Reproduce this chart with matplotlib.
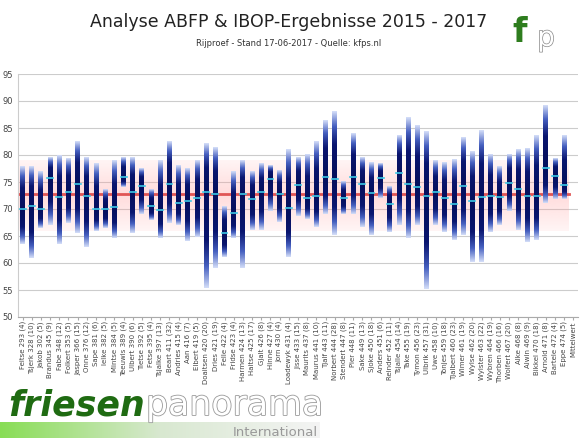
#!/usr/bin/env python
import numpy as np
import matplotlib
matplotlib.use('Agg')
import matplotlib.pyplot as plt
from matplotlib.colors import LinearSegmentedColormap
import matplotlib.patheffects as pe

labels = ['Feitse 293 (4)', 'Tsjerk 328 (10)', 'Jakob 302 (5)', 'Brandus 345 (9)', 'Fabe 348 (12)',
          'Folkert 353 (5)', 'Jasper 366 (15)', 'Onne 376 (12)', 'Sape 381 (6)', 'Ielke 382 (5)',
          'Mintse 384 (5)', 'Teeuwis 389 (4)', 'Ulbert 390 (6)', 'Tietse 392 (5)', 'Fetse 395 (4)',
          'Tsjalke 397 (13)', 'Beart 411 (32)', 'Andries 415 (4)', 'Aan 416 (7)', 'Elbert 419 (5)',
          'Doaitsen 420 (20)', 'Dries 421 (19)', 'Felle 422 (4)', 'Fridse 423 (4)', 'Harmen 424 (13)',
          'Haitse 425 (17)', 'Gjalt 426 (8)', 'Hinne 427 (4)', 'Jorn 430 (4)', 'Loadewyk 431 (4)',
          'Jisse 433 (15)', 'Maurits 437 (8)', 'Maurus 441 (10)', 'Tjalf 443 (11)', 'Norbert 444 (28)',
          'Stendert 447 (8)', 'Pier 448 (11)', 'Sake 449 (13)', 'Sjoke 450 (18)', 'Anders 451 (6)',
          'Reinder 452 (11)', 'Tsjalle 454 (14)', 'Take 455 (19)', 'Tymon 456 (23)', 'Ulbrik 457 (31)',
          'Uwe 458 (10)', 'Tonjes 459 (18)', 'Tjalbert 460 (23)', 'Wimer 461 (19)', 'Wylse 462 (20)',
          'Wylster 463 (22)', 'Wybren 464 (19)', 'Thorben 466 (16)', 'Wolfert 467 (20)', 'Alke 468 (8)',
          'Alwin 469 (9)', 'Bikkel 470 (18)', 'Arnold 471 (8)', 'Bartele 472 (4)', 'Eppe 474 (5)',
          'Mittelwert']

maxima = [78, 78, 77, 79.5, 80, 79.5, 82.5, 79.5, 78.5, 73.6, 79, 79.5, 79.5, 77.5, 73.6, 79, 82.5, 78,
          77.5, 79, 82.1, 81.5, 70.5, 77.1, 79.1, 77.1, 78.6, 78, 77.1, 81.1, 79.6, 80.1, 82.5, 86.5,
          88, 75.2, 84, 79.6, 78.6, 78.5, 74.1, 83.6, 87.1, 85.6, 84.2, 79.1, 78.6, 79.1, 83.1, 80.7,
          84.5, 80.1, 78, 80.1, 81.1, 81.1, 83.6, 89.1, 79.3, 83.6]
minima = [63.6, 61, 66.5, 67, 63.6, 67.5, 65.6, 63, 66, 66.5, 64.6, 74.1, 65.6, 69, 68, 64.6, 67.5, 67,
          64, 64.8, 55.3, 59.1, 61.2, 64.7, 59.1, 66.2, 66.2, 69.6, 67.6, 61.2, 68.7, 68.2, 66.7, 69.1,
          65.1, 69.1, 69.1, 66.7, 65.1, 72.1, 65.7, 67.1, 64.7, 67.1, 55.1, 67.1, 65.7, 64.2, 65.1, 60.2,
          60.2, 65.7, 67.1, 69.6, 66.2, 63.8, 64.2, 71.1, 71.8, 71.8]
means = [70, 70.6, 70, 75.7, 72.3, 73.1, 74.6, 72.5, 70, 70, 70.3, 76, 73.1, 74.3, 70.5, 69.8, 74.6, 71.1,
         71.5, 72, 73.1, 72.7, 65.6, 69.2, 72.7, 71.9, 73.1, 75.6, 72.7, 70.2, 74.5, 72, 72.4, 76, 75.6,
         72, 76, 74.6, 72.9, 75.7, 71, 76.7, 74.6, 74.1, 72.4, 73.1, 72, 71, 74.2, 71.4, 72.2, 72.4,
         72.2, 74.9, 73.7, 72.5, 72.4, 77.6, 76.2, 74.5]
overall_mean = 72.8
band_low, band_high = 66.0, 79.0

fig = plt.figure(figsize=(5.84, 4.47), dpi=100)
ax = fig.add_axes([18 / 584, 1 - 317 / 447, 560 / 584, 243 / 447])
n = len(labels)
ax.set_xlim(-0.5, n - 0.5)
ax.set_ylim(50, 95)

# pink band around the overall mean
yy = np.linspace(band_low, band_high, 200)
alpha = 1 - np.abs(yy - overall_mean) / np.where(yy > overall_mean, band_high - overall_mean, overall_mean - band_low)
rgba = np.zeros((200, 1, 4))
rgba[..., 0] = 1.0
rgba[..., 1] = 0.6
rgba[..., 2] = 0.6
rgba[:, 0, 3] = 0.1 + 0.25 * alpha
ax.imshow(rgba, extent=[-0.5, n - 1.5, band_low, band_high], origin='lower', aspect='auto', zorder=1)

cmap = LinearSegmentedColormap.from_list('bars', ['#d3ddf8', '#4660c0', '#0a1670', '#06105e'])
w = 0.27
for i in range(len(maxima)):
    lo, hi, m = minima[i], maxima[i], means[i]
    ys = np.linspace(lo, hi, 200)
    d = np.where(ys > m, (ys - m) / max(hi - m, 0.1), (m - ys) / max(m - lo, 0.1))
    val = 1 - np.clip(d, 0, 1) ** 1.6
    ax.imshow(val[:, None], cmap=cmap, vmin=0, vmax=1, extent=[i - w, i + w, lo, hi],
              origin='lower', aspect='auto', zorder=3)
    ax.plot([i - w - 0.05, i + w + 0.05], [m, m], color='#3cc8e6', lw=1.2, zorder=4)

ax.axhline(overall_mean, xmin=0, xmax=(n - 1) / n, color='#e05555', lw=2, zorder=2)

ax.set_yticks(range(50, 96, 5))
ax.yaxis.grid(True, color='#cccccc', lw=0.8)
ax.set_axisbelow(True)
ax.set_xticks(range(n))
ax.set_xticklabels(labels, rotation=90, fontsize=5, color='#444444')
ax.tick_params(axis='y', labelsize=6, colors='#444444', length=0)
ax.tick_params(axis='x', length=2, color='#aaaaaa', pad=1)
for s in ['top', 'right']:
    ax.spines[s].set_visible(False)
ax.spines['left'].set_color('#cccccc')
ax.spines['bottom'].set_color('#aaaaaa')

fig.text(0.495, 1 - 22 / 447, 'Analyse ABFP & IBOP-Ergebnisse 2015 - 2017', ha='center', va='center',
         fontsize=12.5, color='#222222')
fig.text(0.495, 1 - 44 / 447, 'Rijproef - Stand 17-06-2017 - Quelle: kfps.nl', ha='center', va='center',
         fontsize=6, color='#333333')

# kfp logo approximation
fig.text(0.89, 1 - 33 / 447, 'f', ha='center', va='center', fontsize=24, color='#2e7d1e',
         fontweight='bold')
fig.text(0.935, 1 - 38 / 447, 'p', ha='center', va='center', fontsize=20, color='white',
         path_effects=[pe.withStroke(linewidth=1, foreground='#888888')])

# friesenpanorama banner
strip = fig.add_axes([0, 1 - 438 / 447, 320 / 584, 16 / 447])
grad = np.linspace(0, 1, 256)[None, :]
strip.imshow(grad, cmap=LinearSegmentedColormap.from_list('g', ['#88dd55', '#d8e8d0', '#f4f4f4']),
             aspect='auto')
strip.axis('off')
fig.text(8 / 584, 1 - 405 / 447, 'friesen', fontsize=25, fontweight='bold', color='#1f6b12',
         va='center', ha='left', fontstyle='italic')
fig.text(146 / 584, 1 - 405 / 447, 'panorama', fontsize=25, color='white', va='center', ha='left',
         path_effects=[pe.withStroke(linewidth=1.2, foreground='#999999')])
fig.text(318 / 584, 1 - 433 / 447, 'International', fontsize=9.5, color='#999999', va='center', ha='right')

fig.savefig('out.png', dpi=100)
